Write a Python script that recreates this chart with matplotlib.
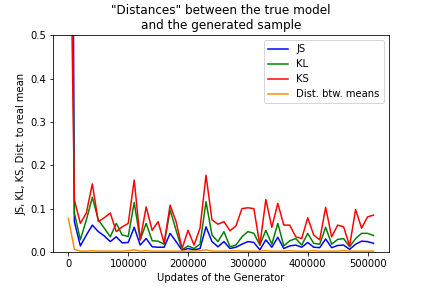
import numpy as np
import matplotlib
matplotlib.use("Agg")
import matplotlib.pyplot as plt

# updates of the generator (every 10000)
updates = np.arange(0, 520000, 10000)

js = [3.0, 0.07, 0.014, 0.039, 0.062, 0.047, 0.037, 0.024, 0.035, 0.021,
      0.022, 0.057, 0.016, 0.031, 0.012, 0.011, 0.011, 0.043, 0.024, 0.004,
      0.008, 0.005, 0.008, 0.058, 0.024, 0.012, 0.024, 0.008, 0.011, 0.018,
      0.024, 0.022, 0.005, 0.028, 0.011, 0.034, 0.008, 0.014, 0.016, 0.011,
      0.022, 0.011, 0.010, 0.030, 0.010, 0.015, 0.016, 0.006, 0.018, 0.025,
      0.024, 0.020]

kl = [1.8, 0.09, 0.028, 0.074, 0.126, 0.074, 0.055, 0.035, 0.066, 0.039,
      0.036, 0.114, 0.028, 0.066, 0.026, 0.025, 0.018, 0.097, 0.05, 0.005,
      0.014, 0.008, 0.018, 0.116, 0.039, 0.024, 0.047, 0.012, 0.016, 0.035,
      0.047, 0.043, 0.016, 0.05, 0.018, 0.066, 0.014, 0.026, 0.031, 0.016,
      0.043, 0.02, 0.018, 0.057, 0.018, 0.029, 0.031, 0.012, 0.031, 0.043,
      0.043, 0.038]

ks = [1.1, 0.12, 0.066, 0.09, 0.157, 0.07, 0.079, 0.09, 0.047, 0.058,
      0.066, 0.166, 0.028, 0.104, 0.05, 0.07, 0.02, 0.108, 0.07, 0.008,
      0.05, 0.016, 0.055, 0.177, 0.074, 0.064, 0.07, 0.049, 0.06, 0.1,
      0.102, 0.1, 0.016, 0.121, 0.057, 0.112, 0.062, 0.062, 0.035, 0.031,
      0.079, 0.039, 0.028, 0.103, 0.035, 0.062, 0.058, 0.014, 0.098, 0.055,
      0.081, 0.085]

means = [0.078, 0.006, 0.002, 0.002, 0.003, 0.002, 0.002, 0.002, 0.002, 0.002,
         0.003, 0.005, 0.002, 0.003, 0.002, 0.002, 0.002, 0.002, 0.002, 0.002,
         0.002, 0.002, 0.003, 0.005, 0.002, 0.002, 0.002, 0.002, 0.003, 0.002,
         0.002, 0.002, 0.002, 0.003, 0.002, 0.002, 0.002, 0.003, 0.002, 0.002,
         0.002, 0.003, 0.002, 0.002, 0.002, 0.002, 0.003, 0.002, 0.002, 0.002,
         0.002, 0.002]

fig = plt.figure(figsize=(6, 4), dpi=72)
fig.subplots_adjust(left=0.123, right=0.9, bottom=0.125, top=0.878)
ax = fig.add_subplot(111)

ax.plot(updates, js, color='blue', label='JS')
ax.plot(updates, kl, color='green', label='KL')
ax.plot(updates, ks, color='red', label='KS')
ax.plot(updates, means, color='darkorange', label='Dist. btw. means')

ax.set_ylim(0, 0.5)
ax.set_title('"Distances" between the true model\nand the generated sample')
ax.set_xlabel('Updates of the Generator')
ax.set_ylabel('JS, KL, KS, Dist. to real mean')
ax.legend(loc='upper right')

fig.savefig('out.png', dpi=72)
